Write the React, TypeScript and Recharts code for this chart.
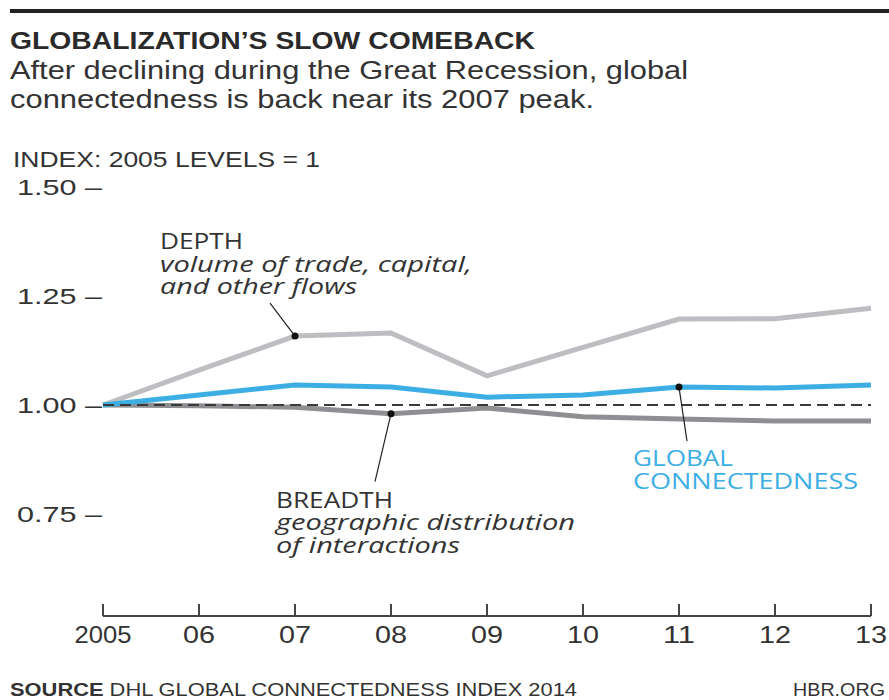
import React from "react";
import { LineChart, Line, XAxis, YAxis, ReferenceLine } from "recharts";

const years = [2005, 2006, 2007, 2008, 2009, 2010, 2011, 2012, 2013];
const depth = [1.0, 1.08, 1.158, 1.165, 1.067, 1.132, 1.197, 1.198, 1.222];
const globalConn = [1.0, 1.023, 1.046, 1.041, 1.018, 1.023, 1.041, 1.039, 1.046];
const breadth = [1.0, 0.998, 0.995, 0.98, 0.993, 0.973, 0.968, 0.963, 0.963];
const yTicks = [0.75, 1.0, 1.25, 1.5];
const xTickLabels = ["2005", "06", "07", "08", "09", "10", "11", "12", "13"];

const data = years.map((y, i) => ({
  year: y,
  depth: depth[i],
  globalConn: globalConn[i],
  breadth: breadth[i],
}));

const SANS = "'Liberation Sans', Arial, sans-serif";
const ANN = "'Open Sans', 'DejaVu Sans', sans-serif";
const TXT = "#333";
const BLUE = "#3caee4";

const T = (p: any) => {
  const { x, y, w, size, bold, italic, color, anchor, children } = p;
  return (
    <text
      x={x}
      y={y}
      textLength={w}
      lengthAdjust="spacingAndGlyphs"
      textAnchor={anchor || "start"}
      fontFamily={p.font || SANS}
      fontSize={size}
      fontWeight={bold ? "bold" : "normal"}
      fontStyle={italic ? "italic" : "normal"}
      fill={color || TXT}
    >
      {children}
    </text>
  );
};

const makeDot = (targetIdx: number, dx: number, dy: number) => (props: any) => {
  const { cx, cy, index } = props;
  if (index !== targetIdx) return <g key={`d-${index}`} />;
  return (
    <g key={`d-${index}`}>
      <line x1={cx} y1={cy} x2={cx + dx} y2={cy + dy} stroke="#222" strokeWidth={1.2} />
      <circle cx={cx} cy={cy} r={3.5} fill="#111" />
    </g>
  );
};

const XTick = (props: any) => {
  const { x, y, payload, index } = props;
  const label = xTickLabels[index] ?? String(payload.value);
  return (
    <g>
      <line x1={x} y1={y - 12} x2={x} y2={y} stroke="#444" strokeWidth={2} />
      <text
        x={x}
        y={y + 27}
        textAnchor="middle"
        textLength={label.length === 4 ? 57 : 32}
        lengthAdjust="spacingAndGlyphs"
        fontFamily={SANS}
        fontSize={24}
        fill={TXT}
      >
        {label}
      </text>
    </g>
  );
};

const YTick = (props: any) => {
  const { y, payload } = props;
  return (
    <text
      x={17}
      y={y + 8}
      textAnchor="start"
      textLength={85}
      lengthAdjust="spacingAndGlyphs"
      fontFamily={SANS}
      fontSize={22}
      fill={TXT}
    >
      {payload.value.toFixed(2)} –
    </text>
  );
};

export default function App() {
  return (
    <div style={{ position: "absolute", left: 0, top: 0, width: 889, height: 700, background: "#fff" }}>
      <LineChart
        width={889}
        height={700}
        data={data}
        margin={{ top: 187, right: 18, bottom: 54, left: 43 }}
      >
        <XAxis
          dataKey="year"
          type="number"
          domain={[2005, 2013]}
          ticks={years}
          tickSize={0}
          tickMargin={0}
          tickLine={false}
          height={30}
          axisLine={{ stroke: "#444", strokeWidth: 2 }}
          tick={<XTick />}
          interval={0}
        />
        <YAxis
          type="number"
          domain={[0.516, 1.5]}
          ticks={yTicks}
          width={60}
          axisLine={false}
          tickLine={false}
          tick={<YTick />}
          interval={0}
        />
        <Line
          dataKey="depth"
          stroke="#bdbec1"
          strokeWidth={5}
          isAnimationActive={false}
          dot={makeDot(2, -25, -33)}
          activeDot={false}
        />
        <Line
          dataKey="breadth"
          stroke="#8e8f92"
          strokeWidth={5}
          isAnimationActive={false}
          dot={makeDot(3, -16, 68)}
          activeDot={false}
        />
        <Line
          dataKey="globalConn"
          stroke={BLUE}
          strokeWidth={5}
          isAnimationActive={false}
          dot={makeDot(6, 8, 54)}
          activeDot={false}
        />
        <ReferenceLine y={1} stroke="#3a3a3a" strokeWidth={1.8} strokeDasharray="11 6" />
      </LineChart>
      <svg
        width={889}
        height={700}
        style={{ position: "absolute", left: 0, top: 0, pointerEvents: "none" }}
      >
        <rect x={10} y={9} width={879} height={4} fill="#222" />
        <T x={10} y={49} w={525} size={24} bold color="#2a2a2a">GLOBALIZATION’S SLOW COMEBACK</T>
        <T x={10} y={79} w={678} size={26}>After declining during the Great Recession, global</T>
        <T x={10} y={108} w={584} size={26}>connectedness is back near its 2007 peak.</T>
        <T x={13} y={167} w={307} size={22}>INDEX: 2005 LEVELS = 1</T>

        <T x={160} y={249} w={83} size={21} font={ANN}>DEPTH</T>
        <T x={160} y={272} w={312} size={21} font={ANN} italic>volume of trade, capital,</T>
        <T x={160} y={294} w={197} size={21} font={ANN} italic>and other flows</T>

        <T x={276} y={508} w={117} size={21} font={ANN}>BREADTH</T>
        <T x={276} y={530} w={299} size={21} font={ANN} italic>geographic distribution</T>
        <T x={276} y={553} w={184} size={21} font={ANN} italic>of interactions</T>

        <T x={633} y={466} w={100} size={21} font={ANN} color={BLUE}>GLOBAL</T>
        <T x={633} y={489} w={225} size={21} font={ANN} color={BLUE}>CONNECTEDNESS</T>

        <text
          x={10}
          y={696}
          textLength={567}
          lengthAdjust="spacingAndGlyphs"
          fontFamily={SANS}
          fontSize={18}
          fill={TXT}
        >
          <tspan fontWeight="bold">SOURCE</tspan> DHL GLOBAL CONNECTEDNESS INDEX 2014
        </text>
        <T x={885} y={696} w={92} size={18} anchor="end">HBR.ORG</T>
      </svg>
    </div>
  );
}
